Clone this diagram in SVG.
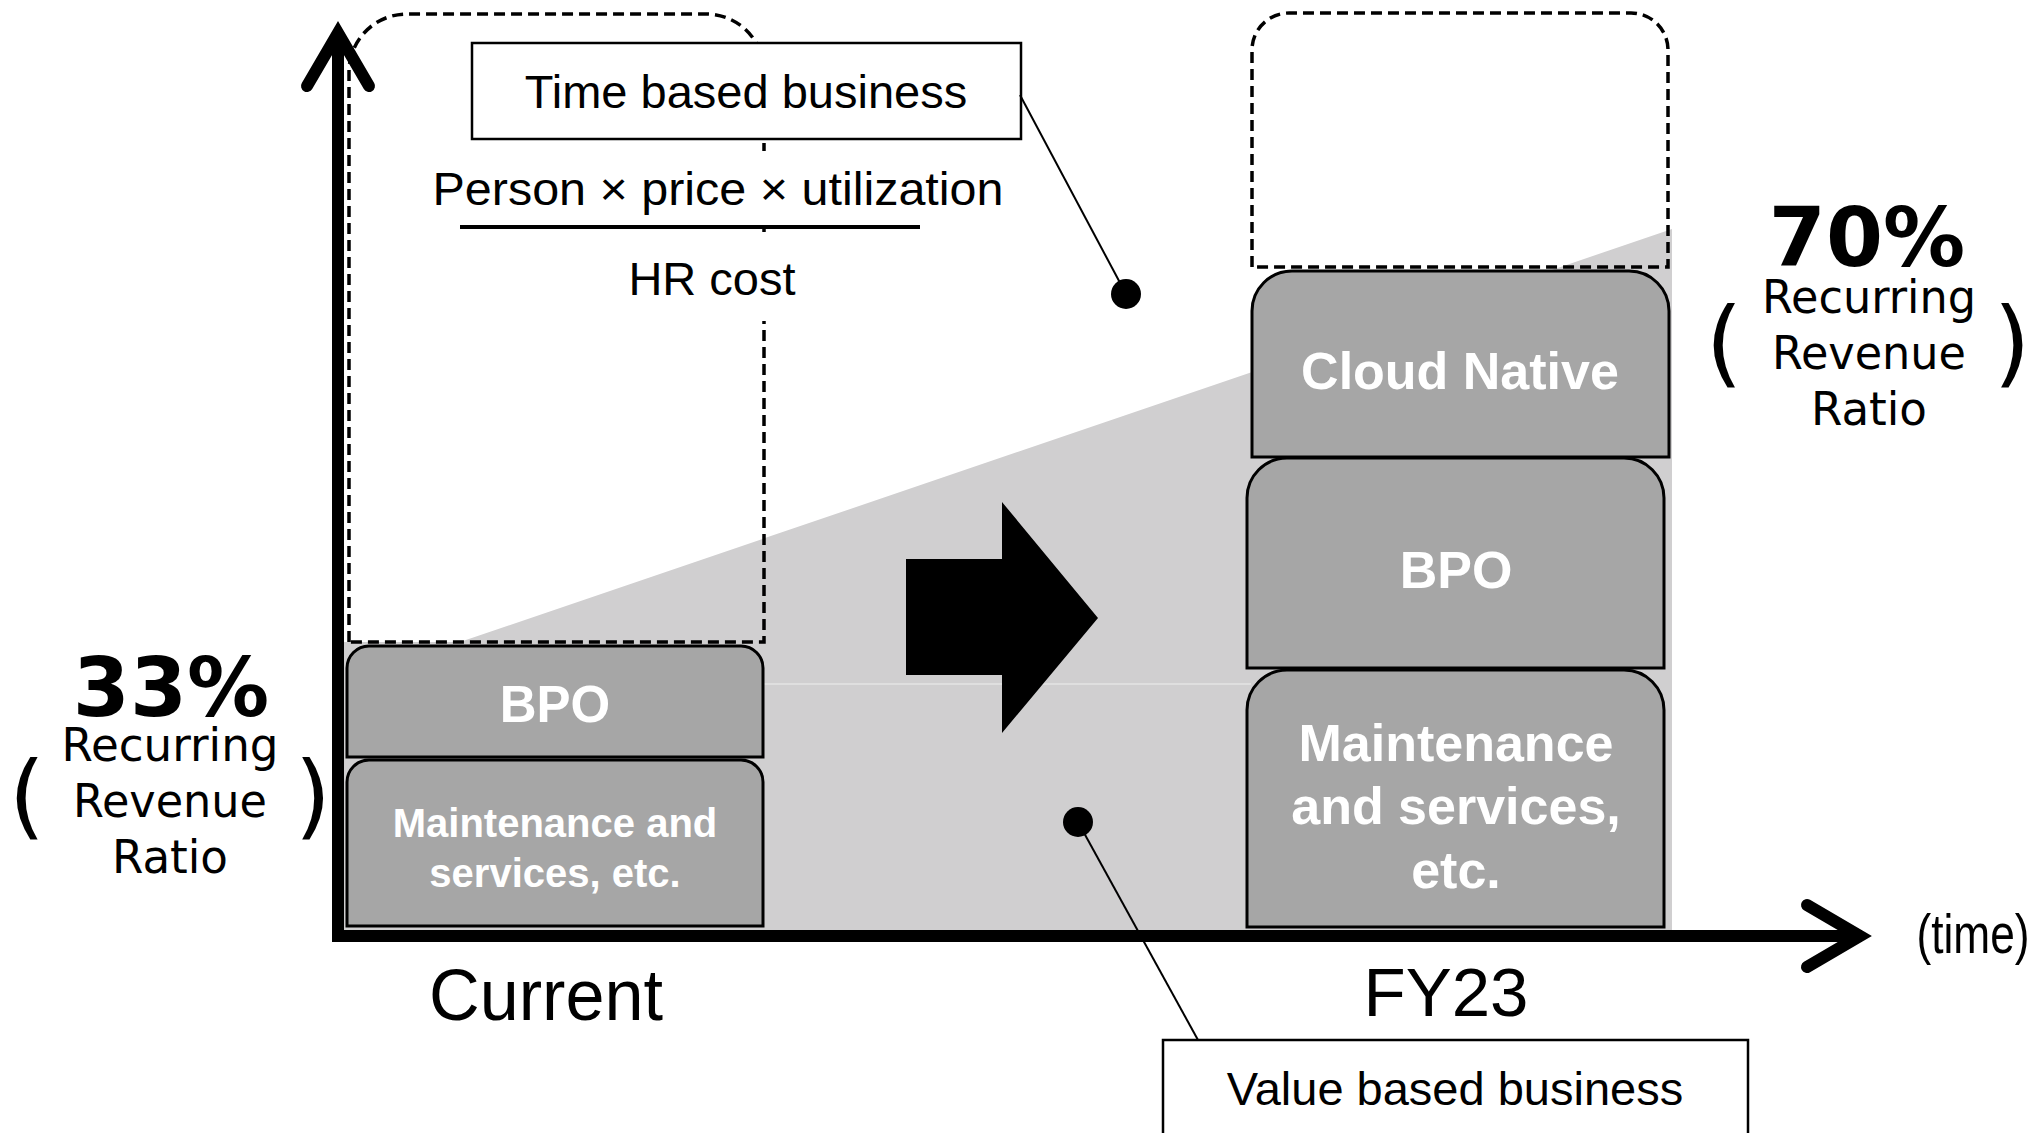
<svg xmlns="http://www.w3.org/2000/svg" width="2040" height="1133" viewBox="0 0 2040 1133">
<style>
.seg{fill:#a6a6a6;stroke:#000;stroke-width:3}
.seglbl{font-family:"Liberation Sans",Arial,sans-serif;font-weight:bold;fill:#fff;text-anchor:middle}
.plan{fill:none;stroke:#000;stroke-width:3.5;stroke-dasharray:11 6}
.call{fill:#fff;stroke:#000;stroke-width:2.5}
.sans{font-family:"Liberation Sans",Arial,sans-serif;fill:#000;text-anchor:middle}
.dv{font-family:"DejaVu Sans",Verdana,sans-serif;fill:#000;text-anchor:middle}
.axis{fill:none;stroke:#000;stroke-width:12}
.lead{stroke:#000;stroke-width:2;fill:none}
</style>
<rect width="2040" height="1133" fill="#fff"/>

<!-- recurring-revenue share, growing over time -->
<g id="recurring-area">
  <polygon points="343,642 460,642 1672,229 1672,930 343,930" fill="#d0cfd0"/>
  <path d="M763,684 H1251" stroke="#e4e4e4" stroke-width="1.5"/>
</g>

<!-- current period -->
<g id="current-plan"><path class="plan" d="M349,642 V72 A58 58 0 0 1 407,14 H706 A58 58 0 0 1 764,72 V642 Z"/></g>
<g id="current-bpo">
  <path class="seg" d="M347,757 V668 A22 22 0 0 1 369,646 H741 A22 22 0 0 1 763,668 V757 Z"/>
  <text class="seglbl" x="555" y="722" font-size="51">BPO</text>
</g>
<g id="current-maintenance">
  <path class="seg" d="M347,926 V782 A22 22 0 0 1 369,760 H741 A22 22 0 0 1 763,782 V926 Z"/>
  <text class="seglbl" x="555" y="837" font-size="40">Maintenance and</text>
  <text class="seglbl" x="555" y="887" font-size="40">services, etc.</text>
</g>

<!-- FY23 -->
<g id="fy23-plan"><path class="plan" d="M1252,267 V50 A37 37 0 0 1 1289,13 H1631 A37 37 0 0 1 1668,50 V267 Z"/></g>
<g id="fy23-cloud">
  <path class="seg" d="M1252,457 V311 A40 40 0 0 1 1292,271 H1629 A40 40 0 0 1 1669,311 V457 Z"/>
  <text class="seglbl" x="1460" y="389" font-size="52">Cloud Native</text>
</g>
<g id="fy23-bpo">
  <path class="seg" d="M1247,668 V498 A40 40 0 0 1 1287,458 H1624 A40 40 0 0 1 1664,498 V668 Z"/>
  <text class="seglbl" x="1456" y="588" font-size="52">BPO</text>
</g>
<g id="fy23-maintenance">
  <path class="seg" d="M1247,927 V710 A40 40 0 0 1 1287,670 H1624 A40 40 0 0 1 1664,710 V927 Z"/>
  <text class="seglbl" x="1456" y="761" font-size="52">Maintenance</text>
  <text class="seglbl" x="1456" y="824" font-size="52">and services,</text>
  <text class="seglbl" x="1456" y="888" font-size="52">etc.</text>
</g>

<!-- axes -->
<g id="axes">
  <path class="axis" d="M338,33 V936 H1860" stroke-linejoin="miter"/>
  <path class="axis" d="M307,86 L338,33 L369,86" stroke-linecap="round" stroke-linejoin="miter"/>
  <path class="axis" d="M1807,905 L1860,936 L1807,967" stroke-linecap="round" stroke-linejoin="miter"/>
  <text class="sans" x="1973" y="953" font-size="56" textLength="113" lengthAdjust="spacingAndGlyphs">(time)</text>
  <text class="sans" x="546" y="1020" font-size="72" textLength="234" lengthAdjust="spacingAndGlyphs">Current</text>
  <text class="sans" x="1446" y="1016" font-size="69">FY23</text>
</g>

<!-- transition arrow -->
<g id="shift-arrow">
  <polygon points="906,559 1002,559 1002,502 1098,618 1002,733 1002,675 906,675" fill="#000"/>
</g>

<!-- time based business callout and formula -->
<g id="time-based">
  <rect class="call" x="472" y="43" width="549" height="96"/>
  <text class="sans" x="746" y="108" font-size="47">Time based business</text>
</g>
<g id="formula">
  <rect x="428" y="151" width="582" height="74" fill="#fff"/>
  <rect x="455" y="232" width="470" height="89" fill="#fff"/>
  <text class="sans" x="718" y="205" font-size="47" textLength="571" lengthAdjust="spacingAndGlyphs">Person × price × utilization</text>
  <path d="M460,227 H920" stroke="#000" stroke-width="4"/>
  <text class="sans" x="712" y="295" font-size="47">HR cost</text>
</g>

<!-- value based business callout -->
<g id="value-based">
  <rect class="call" x="1163" y="1040" width="585" height="110"/>
  <text class="sans" x="1455" y="1105" font-size="47">Value based business</text>
</g>

<!-- recurring revenue ratios -->
<g id="ratio-current">
  <text class="dv" x="171" y="716" font-size="82" font-weight="bold">33%</text>
  <text class="dv" x="170" y="761" font-size="46" textLength="217" lengthAdjust="spacingAndGlyphs">Recurring</text>
  <text class="dv" x="170" y="817" font-size="46" textLength="194" lengthAdjust="spacingAndGlyphs">Revenue</text>
  <text class="dv" x="170" y="873" font-size="46" textLength="116" lengthAdjust="spacingAndGlyphs">Ratio</text>
  <text class="dv" x="27" y="828" font-size="93">(</text>
  <text class="dv" x="313" y="828" font-size="93">)</text>
</g>
<g id="ratio-fy23">
  <text class="dv" x="1867" y="266" font-size="82" font-weight="bold">70%</text>
  <text class="dv" x="1869" y="313" font-size="46" textLength="214" lengthAdjust="spacingAndGlyphs">Recurring</text>
  <text class="dv" x="1869" y="369" font-size="46" textLength="194" lengthAdjust="spacingAndGlyphs">Revenue</text>
  <text class="dv" x="1869" y="425" font-size="46" textLength="116" lengthAdjust="spacingAndGlyphs">Ratio</text>
  <text class="dv" x="1724" y="375" font-size="95">(</text>
  <text class="dv" x="2012" y="375" font-size="95">)</text>
</g>

<!-- leader lines from callouts to regions -->
<g id="connectors">
  <path class="lead" d="M1020,95 L1126,294"/>
  <circle cx="1126" cy="294" r="15" fill="#000"/>
  <path class="lead" d="M1078,822 L1198,1040"/>
  <circle cx="1078" cy="822" r="15" fill="#000"/>
</g>
</svg>
